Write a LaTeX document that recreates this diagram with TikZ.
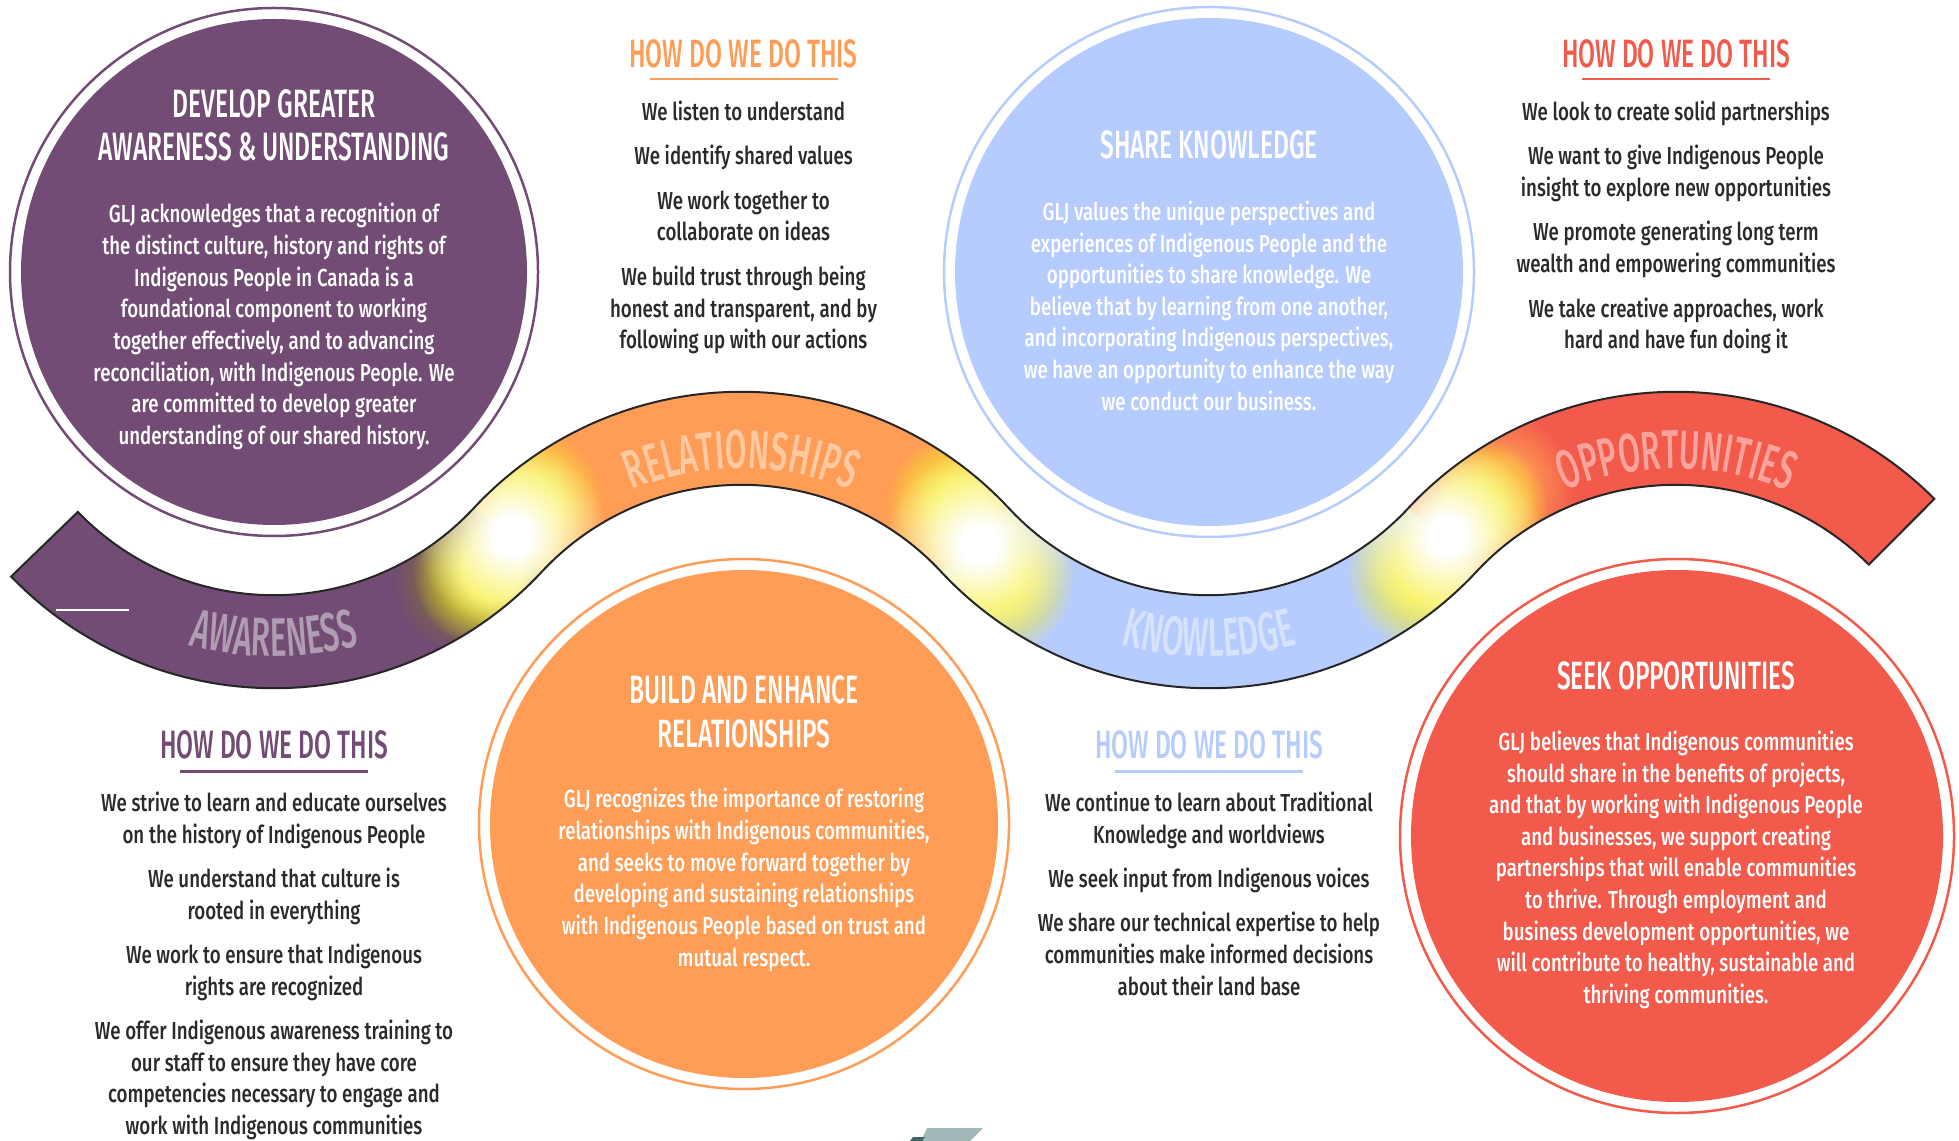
\documentclass[tikz,border=0pt]{standalone}
\usepackage{fontspec}
\setmainfont{Fira Sans}[UprightFont={* Medium}, FakeStretch=0.76]
\newfontfamily\headfam{Fira Sans}[UprightFont={* Medium}, FakeStretch=0.62]
\newfontfamily\bandfam{Fira Sans}[UprightFont={* Medium}, FakeStretch=0.58]
\usetikzlibrary{calc}
\usetikzlibrary{decorations.text}
\usetikzlibrary{fadings}

\definecolor{awcol}{HTML}{724C74}
\definecolor{relcol}{HTML}{FF9C55}
\definecolor{knocol}{HTML}{B6CCFE}
\definecolor{oppcol}{HTML}{F25A4B}
\definecolor{glowcol}{HTML}{F7EE2E}
\definecolor{textgray}{HTML}{2B2A2A}

\newcommand\hdfont{\headfam\fontsize{22.5}{24.8}\selectfont}
\newcommand\txfont{\fontsize{14}{18}\selectfont}
\newcommand\bandlbl{\bandfam\fontsize{31}{32}\selectfont}

% soft spots for the glows
\pgfdeclareradialshading{spotshade}{\pgfpoint{0bp}{0bp}}{color(0bp)=(white); color(9bp)=(white); color(25bp)=(black); color(50bp)=(black)}
\pgfdeclarefading{softspot}{\pgfuseshading{spotshade}}
\pgfdeclareradialshading{coreshade}{\pgfpoint{0bp}{0bp}}{color(0bp)=(white); color(5bp)=(white); color(25bp)=(black); color(50bp)=(black)}
\pgfdeclarefading{softcore}{\pgfuseshading{coreshade}}

\tikzset{
	ring/.style={draw=#1, line width=0.05cm},
	circtitle/.style={text=white, align=center, font=\hdfont, inner sep=0pt, anchor=north},
	circbody/.style={text=white, align=center, font=\txfont, inner sep=0pt, anchor=north},
	howhead/.style={text=#1, font=\hdfont, inner sep=0pt, anchor=north},
	howlist/.style={text=textgray, align=center, font=\txfont, inner sep=0pt, anchor=north},
	glow/.style={fill=#1, path fading=softspot},
	whiteglow/.style={fill=white, path fading=softcore},
	bandtext/.style 2 args={decorate, decoration={text along path, text={|\bandlbl|#1}, text align=center, text color=#2}}
}

\begin{document}
\begin{tikzpicture}[x=0.02cm, y=0.02cm]
	\useasboundingbox (0,0) rectangle (1959,-1141);

	% centres of the four arcs of the wave
	\coordinate (awc) at (274,-322.5);
	\coordinate (relc) at (741.3,-757.5);
	\coordinate (knoc) at (1208.7,-322.5);
	\coordinate (oppc) at (1676,-757.5);
	\coordinate (tra) at (507.7,-539.9);
	\coordinate (trb) at (975,-540.1);
	\coordinate (trc) at (1442.4,-539.9);

	\def\bandpath{([shift={(224:272.7)}]awc) arc[start angle=224, end angle=317.05, radius=272.7]
		arc[start angle=137.05, end angle=42.95, radius=365.7]
		arc[start angle=222.95, end angle=317.05, radius=272.7]
		arc[start angle=137.05, end angle=45, radius=365.7]
		-- ([shift={(45:272.7)}]oppc)
		arc[start angle=45, end angle=137.05, radius=272.7]
		arc[start angle=317.05, end angle=222.95, radius=365.7]
		arc[start angle=42.95, end angle=137.05, radius=272.7]
		arc[start angle=317.05, end angle=224, radius=365.7] -- cycle}

	\begin{scope}
		\clip \bandpath;
		\fill[oppcol] (0,0) rectangle (1959,-1141);
		\fill[knocol] (274.1,547.5) -- (2143.3,-1192.5) -- (2143.3,-1500) -- (-500,-1500) -- (-500,547.5) -- cycle;
		\fill[relcol] (-193.5,-1627.5) -- (2143.5,547.5) -- (-500,547.5) -- (-500,-1627.5) -- cycle;
		\fill[awcol] (-660.6,547.5) -- (1675.9,-1627.5) -- (-700,-1627.5) -- cycle;
		% glows where the colours meet
		\fill[glow=black!45!glowcol, opacity=0.6] ($(tra)+(222.95:62)$) circle[radius=70];
		\fill[glow=glowcol] ($(tra)+(222.95:32)+(312.95:12)$) circle[radius=80];
		\fill[glow=glowcol] ($(tra)+(42.95:40)+(132.95:12)$) circle[radius=75];
		\fill[whiteglow] ($(tra)+(42.95:6)$) circle[radius=95];
		\fill[glow=glowcol] ($(trb)+(137.05:34)+(47.05:14)$) circle[radius=75];
		\fill[glow=glowcol] ($(trb)+(-42.95:40)+(227.05:14)$) circle[radius=80];
		\fill[whiteglow] ($(trb)+(-42.95:6)$) circle[radius=95];
		\fill[glow=glowcol] ($(trc)+(222.95:34)+(312.95:12)$) circle[radius=80];
		\fill[glow=relcol] ($(trc)+(42.95:78)$) circle[radius=75];
		\fill[glow=glowcol] ($(trc)+(42.95:42)$) circle[radius=75];
		\fill[whiteglow] ($(trc)+(42.95:6)$) circle[radius=95];
	\end{scope}
	\draw[black!85, line width=0.04cm] \bandpath;
	\draw[white, line width=0.6pt] (56,-610) -- (129,-610);

	\path[bandtext={AWARENESS}{white!45!awcol}] ([shift={(225:334)}]awc) arc[start angle=225, end angle=315, radius=334];
	\path[bandtext={RELATIONSHIPS}{white!45!relcol}] ([shift={(135:289)}]relc) arc[start angle=135, end angle=45, radius=289];
	\path[bandtext={KNOWLEDGE}{white!45!knocol}] ([shift={(225:334)}]knoc) arc[start angle=225, end angle=315, radius=334];
	\path[bandtext={OPPORTUNITIES}{white!45!oppcol}] ([shift={(135:289)}]oppc) arc[start angle=135, end angle=45, radius=289];

	% the four circles
	\draw[ring=awcol] (274,-272) circle[radius=264];
	\fill[awcol] (274,-272) circle[radius=253];
	\draw[ring=knocol] (1209,-272) circle[radius=265];
	\fill[knocol] (1209,-272) circle[radius=254];
	\draw[ring=relcol] (744,-824) circle[radius=265];
	\fill[relcol] (744,-824) circle[radius=254];
	\draw[ring=oppcol] (1677,-836) circle[radius=277];
	\fill[oppcol] (1677,-836) circle[radius=266];

	\node[circtitle] (awtitle) at (274,-89) {DEVELOP GREATER\\AWARENESS \& UNDERSTANDING};
	\node[circbody] (awbody) at (274,-203) {GLJ acknowledges that a recognition of\\the distinct culture, history and rights of\\Indigenous People in Canada is a\\foundational component to working\\together effectively, and to advancing\\reconciliation, with Indigenous People. We\\are committed to develop greater\\understanding of our shared history.};

	\node[circtitle] (reltitle) at (744,-675.5) {BUILD AND ENHANCE\\RELATIONSHIPS};
	\node[circbody] (relbody) at (744,-788) {GLJ recognizes the importance of restoring\\relationships with Indigenous communities,\\and seeks to move forward together by\\developing and sustaining relationships\\with Indigenous People based on trust and\\mutual respect.};

	\node[circtitle] (knotitle) at (1209,-130.5) {SHARE KNOWLEDGE};
	\node[circbody] (knobody) at (1209,-200.5) {GLJ values the unique perspectives and\\experiences of Indigenous People and the\\opportunities to share knowledge. We\\believe that by learning from one another,\\and incorporating Indigenous perspectives,\\we have an opportunity to enhance the way\\we conduct our business.};

	\node[circtitle] (opptitle) at (1676,-661.5) {SEEK OPPORTUNITIES};
	\node[circbody] (oppbody) at (1676,-730.5) {GLJ believes that Indigenous communities\\should share in the benefits of projects,\\and that by working with Indigenous People\\and businesses, we support creating\\partnerships that will enable communities\\to thrive. Through employment and\\business development opportunities, we\\will contribute to healthy, sustainable and\\thriving communities.};

	% how do we do this
	\node[howhead=relcol] (relhow) at (743.5,-39) {HOW DO WE DO THIS};
	\draw[relcol, line width=0.05cm] (relhow.south) ++(-94,-11) -- ++(188,0);
	\node[howlist] (rellist) at (743.5,-100.5) {We listen to understand\\[7.3pt]We identify shared values\\[7.3pt]We work together to\\collaborate on ideas\\[7.3pt]We build trust through being\\honest and transparent, and by\\following up with our actions};

	\node[howhead=oppcol] (opphow) at (1676,-39) {HOW DO WE DO THIS};
	\draw[oppcol, line width=0.05cm] (opphow.south) ++(-94,-11) -- ++(188,0);
	\node[howlist] (opplist) at (1676,-100.5) {We look to create solid partnerships\\[7.3pt]We want to give Indigenous People\\insight to explore new opportunities\\[7.3pt]We promote generating long term\\wealth and empowering communities\\[7.3pt]We take creative approaches, work\\hard and have fun doing it};

	\node[howhead=awcol] (awhow) at (274,-730.5) {HOW DO WE DO THIS};
	\draw[awcol, line width=0.05cm] (awhow.south) ++(-94,-12) -- ++(188,0);
	\node[howlist] (awlist) at (274,-791.5) {We strive to learn and educate ourselves\\on the history of Indigenous People\\[7.3pt]We understand that culture is\\rooted in everything\\[7.3pt]We work to ensure that Indigenous\\rights are recognized\\[7.3pt]We offer Indigenous awareness training to\\our staff to ensure they have core\\competencies necessary to engage and\\work with Indigenous communities};

	\node[howhead=knocol] (knohow) at (1209,-730.5) {HOW DO WE DO THIS};
	\draw[knocol, line width=0.05cm] (knohow.south) ++(-94,-12) -- ++(188,0);
	\node[howlist] (knolist) at (1209,-791.5) {We continue to learn about Traditional\\Knowledge and worldviews\\[7.3pt]We seek input from Indigenous voices\\[7.3pt]We share our technical expertise to help\\communities make informed decisions\\about their land base};

	% corner of a grey shape at the bottom edge
	\fill[black!45!white!70!teal!60] (927,-1128) -- (983,-1128) -- (970,-1141) -- (921,-1141) -- cycle;
	\fill[black!30!gray!70!teal] (910,-1141) -- (913,-1137) -- (925,-1137) -- (922,-1141) -- cycle;
\end{tikzpicture}
\end{document}
